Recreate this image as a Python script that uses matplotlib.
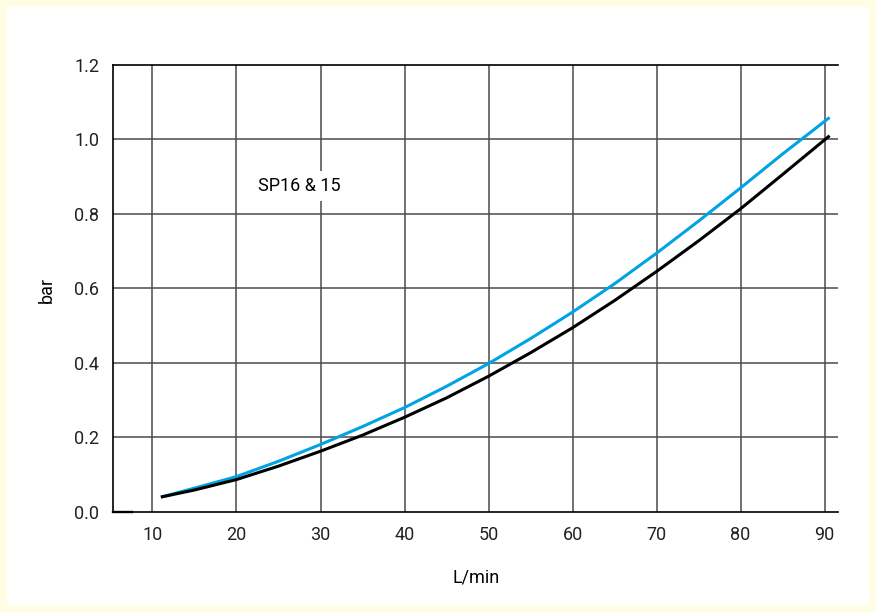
import numpy as np
import matplotlib.pyplot as plt
from matplotlib.patches import Rectangle

plt.rcParams['font.family'] = ['Roboto', 'DejaVu Sans']

# data
flow = [11, 15, 20, 25, 30, 35, 40, 45, 50, 55, 60, 65, 70, 75, 80, 85, 90.6]
black_bar = [0.040, 0.059, 0.087, 0.123, 0.163, 0.206, 0.254, 0.306, 0.364, 0.427, 0.494, 0.567, 0.645, 0.727, 0.813, 0.905, 1.009]
blue_bar = [0.040, 0.064, 0.095, 0.136, 0.181, 0.229, 0.280, 0.337, 0.398, 0.465, 0.536, 0.612, 0.694, 0.780, 0.869, 0.960, 1.058]
xticks = [10, 20, 30, 40, 50, 60, 70, 80, 90]
yticks = [0.0, 0.2, 0.4, 0.6, 0.8, 1.0, 1.2]

fig = plt.figure(figsize=(8.76, 6.12), dpi=100)
fig.patch.set_facecolor('#fffde3')
fig.patches.append(Rectangle((7/876, 7/612), 862/876, 598/612, transform=fig.transFigure,
                             facecolor='white', edgecolor='none', zorder=-5))

ax = fig.add_axes([113/876, 1 - 512/612, 725/876, 447.5/612])
ax.set_zorder(2)
ax.set_facecolor('none')
ax.set_xlim(5.3, 91.6)
ax.set_ylim(0, 1.2)

# grid
for x in xticks:
    ax.axvline(x, color='#4a4a4a', lw=1.1, zorder=1)
for y in yticks[1:-1]:
    ax.axhline(y, color='#4a4a4a', lw=1.1, zorder=1)

ax.plot(flow, blue_bar, color='#00a3e4', lw=2.2, zorder=3, solid_capstyle='butt')
ax.plot(flow, black_bar, color='black', lw=2.2, zorder=3, solid_capstyle='butt')

# small dark stub at the origin corner
ax.plot([0, 0.026], [0, 0], transform=ax.transAxes, color='black', lw=1.7, clip_on=False, zorder=4)

ax.spines['right'].set_visible(False)
for s in ['left', 'top', 'bottom']:
    ax.spines[s].set_linewidth(1.2)

ax.set_xticks(xticks)
ax.set_yticks(yticks)
ax.set_xticklabels([str(x) for x in xticks])
ax.set_yticklabels(['%.1f' % y for y in yticks])
ax.tick_params(length=0, labelsize=13, pad=10, colors='#222222')

ax.text(27.5, 0.874, 'SP16 & 15', fontsize=13, ha='center', va='center',
        bbox=dict(facecolor='white', edgecolor='none', pad=4), zorder=4)

ax.set_xlabel('L/min', fontsize=13)
ax.set_ylabel('bar', fontsize=13)
ax.xaxis.set_label_coords((476 - 113) / 725, (512 - 568) / 447.5)
ax.yaxis.set_label_coords((56 - 113) / 725, (512 - 290) / 447.5)

fig.savefig('out.png', dpi=100)
